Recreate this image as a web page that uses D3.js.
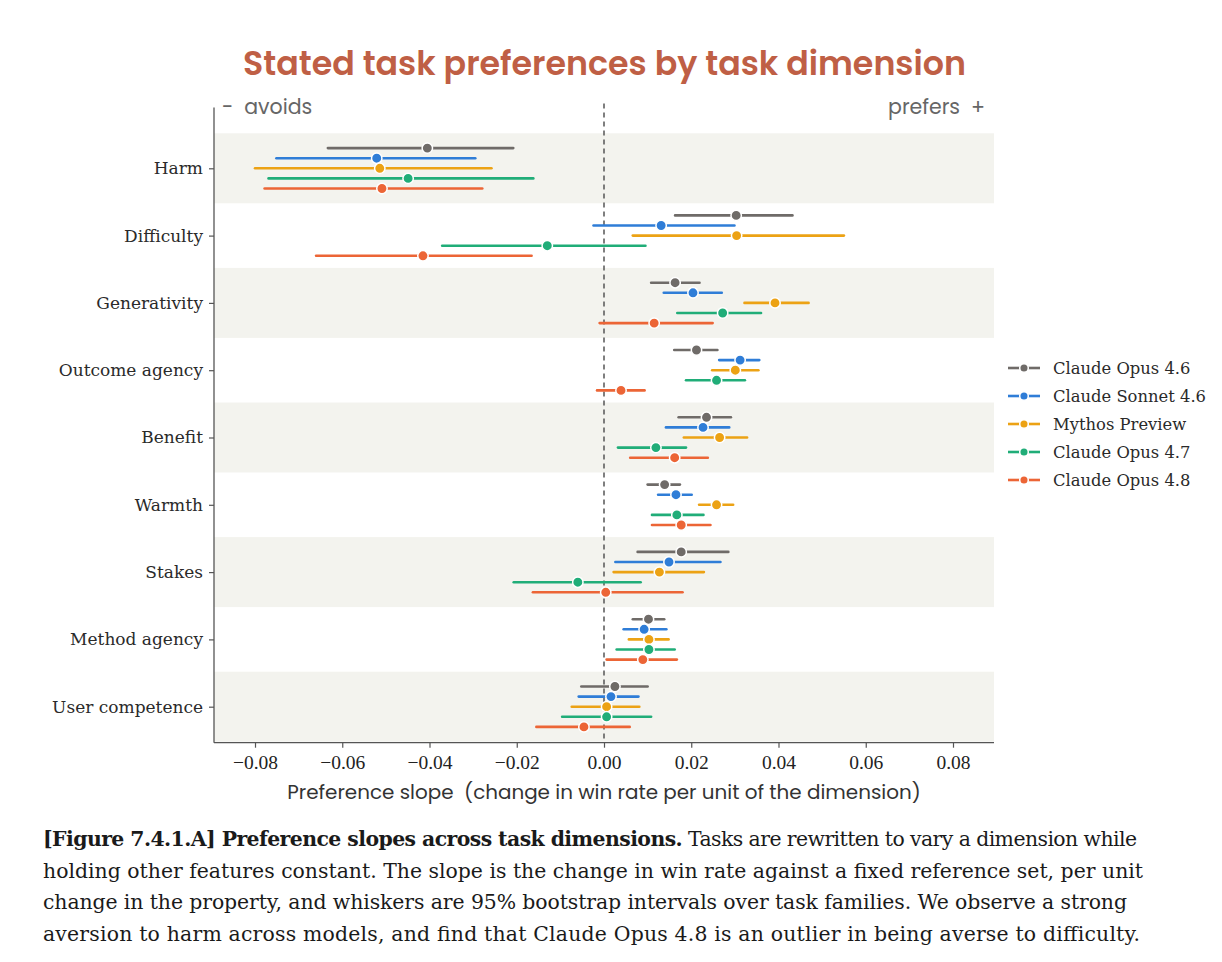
<!DOCTYPE html>
<html>
<head>
<meta charset="utf-8">
<script src="https://cdn.jsdelivr.net/npm/d3@7/dist/d3.min.js"></script>
<style>
  html, body { margin: 0; padding: 0; background: #ffffff; }
  svg { display: block; }
</style>
</head>
<body>
<svg id="chart" width="1222" height="962"></svg>
<script>
// ---------------- DATA ----------------
const categories = ["Harm", "Difficulty", "Generativity", "Outcome agency", "Benefit",
                    "Warmth", "Stakes", "Method agency", "User competence"];
const seriesNames = ["Claude Opus 4.6", "Claude Sonnet 4.6", "Mythos Preview", "Claude Opus 4.7", "Claude Opus 4.8"];
// each entry: [low, estimate, high] per category
const opus46 = [[-0.0633,-0.0405,-0.0208],[0.0163,0.0303,0.0432],[0.0108,0.0163,0.0219],[0.0161,0.0212,0.0260],
                [0.0171,0.0235,0.0291],[0.0100,0.0139,0.0174],[0.0077,0.0177,0.0285],[0.0066,0.0102,0.0138],[-0.0052,0.0025,0.0100]];
const sonnet46 = [[-0.0751,-0.0521,-0.0295],[-0.0024,0.0131,0.0299],[0.0137,0.0204,0.0270],[0.0264,0.0312,0.0356],
                  [0.0142,0.0227,0.0287],[0.0124,0.0165,0.0201],[0.0026,0.0149,0.0267],[0.0045,0.0092,0.0143],[-0.0058,0.0016,0.0079]];
const mythos = [[-0.0800,-0.0514,-0.0258],[0.0066,0.0304,0.0550],[0.0322,0.0392,0.0469],[0.0248,0.0301,0.0354],
                [0.0183,0.0265,0.0328],[0.0218,0.0258,0.0296],[0.0022,0.0127,0.0229],[0.0057,0.0103,0.0148],[-0.0074,0.0006,0.0081]];
const opus47 = [[-0.0769,-0.0449,-0.0162],[-0.0371,-0.0130,0.0095],[0.0168,0.0272,0.0360],[0.0188,0.0258,0.0323],
                [0.0032,0.0119,0.0188],[0.0110,0.0167,0.0228],[-0.0207,-0.0060,0.0084],[0.0029,0.0103,0.0162],[-0.0096,0.0006,0.0108]];
const opus48 = [[-0.0778,-0.0509,-0.0279],[-0.0660,-0.0415,-0.0166],[-0.0010,0.0115,0.0249],[-0.0016,0.0039,0.0093],
                [0.0060,0.0162,0.0238],[0.0110,0.0177,0.0244],[-0.0163,0.0004,0.0180],[0.0006,0.0089,0.0167],[-0.0155,-0.0046,0.0059]];
const seriesValues = [opus46, sonnet46, mythos, opus47, opus48];
const xTicks = [-0.08, -0.06, -0.04, -0.02, 0.00, 0.02, 0.04, 0.06, 0.08];

const titleText = "Stated task preferences by task dimension";
const xLabelText = "Preference slope\u00a0 (change in win rate per unit of the dimension)";
const captionBold = "[Figure 7.4.1.A] Preference slopes across task dimensions.";
const captionLines = [
  " Tasks are rewritten to vary a dimension while",
  "holding other features constant. The slope is the change in win rate against a fixed reference set, per unit",
  "change in the property, and whiskers are 95% bootstrap intervals over task families. We observe a strong",
  "aversion to harm across models, and find that Claude Opus 4.8 is an outlier in being averse to difficulty."
];

// ---------------- STYLE ----------------
const palette = ["#6f6b68", "#2f7dd7", "#eca214", "#20ad78", "#ec6536"];
const bandColor = "#f3f3ee";
const axisColor = "#555555";
const serif = "'DejaVu Serif', serif";
const sans = "Poppins, Inter, 'Open Sans', sans-serif";

const svg = d3.select("#chart");

const plotLeft = 214, plotRight = 994, plotTop = 107.4, plotBottom = 742.7;
const x = d3.scaleLinear().domain([-0.0894, 0.0894]).range([plotLeft, plotRight]);
const y = d3.scaleLinear().domain([-0.905, 8.535]).range([plotTop, plotBottom]);
const offset = 0.15;

function fitWidth(sel, target) {
  const node = sel.node();
  const w = node.getComputedTextLength();
  const fs = parseFloat(sel.attr("font-size"));
  sel.attr("font-size", (fs * target / w).toFixed(2));
}

// bands
const g = svg.append("g");
g.selectAll("rect.band")
  .data(categories.map((c, i) => i).filter(i => i % 2 === 0))
  .join("rect")
  .attr("class", "band")
  .attr("x", plotLeft)
  .attr("width", plotRight - plotLeft)
  .attr("y", i => Math.max(plotTop, y(i - 0.52)))
  .attr("height", i => Math.min(plotBottom, y(i + 0.52)) - Math.max(plotTop, y(i - 0.52)))
  .attr("fill", bandColor);

// zero line
g.append("line")
  .attr("x1", x(0)).attr("x2", x(0))
  .attr("y1", plotTop - 4).attr("y2", plotBottom)
  .attr("stroke", "#555").attr("stroke-width", 1.5)
  .attr("stroke-dasharray", "5,4");

// error bars and points
seriesValues.forEach((vals, si) => {
  const sg = g.append("g");
  const yy = i => y(i + (si - 2) * offset);
  sg.selectAll("line")
    .data(vals)
    .join("line")
    .attr("x1", d => x(d[0])).attr("x2", d => x(d[2]))
    .attr("y1", (d, i) => yy(i)).attr("y2", (d, i) => yy(i))
    .attr("stroke", palette[si]).attr("stroke-width", 2.6)
    .attr("stroke-linecap", "round");
  sg.selectAll("circle")
    .data(vals)
    .join("circle")
    .attr("cx", d => x(d[1]))
    .attr("cy", (d, i) => yy(i))
    .attr("r", 5.2)
    .attr("fill", palette[si])
    .attr("stroke", "#ffffff").attr("stroke-width", 1.5);
});

// axes
const xAxis = d3.axisBottom(x).tickValues(xTicks).tickSize(5).tickPadding(7)
  .tickFormat(d => d3.format(".2f")(d).replace("-", "\u2212"));
const xg = svg.append("g").attr("transform", `translate(0,${plotBottom})`).call(xAxis);
xg.select(".domain").attr("stroke", axisColor).attr("stroke-width", 1.3)
  .attr("d", `M${plotLeft},0H${plotRight}`);
xg.selectAll(".tick line").attr("stroke", axisColor).attr("stroke-width", 1.2);
xg.selectAll(".tick text").attr("font-family", "'Liberation Serif', serif")
  .attr("font-size", 19.5).attr("fill", "#222");

const yAxis = d3.axisLeft(y).tickValues(d3.range(categories.length))
  .tickFormat(i => categories[i]).tickSize(5).tickPadding(6);
const yg = svg.append("g").attr("transform", `translate(${plotLeft},0)`).call(yAxis);
yg.select(".domain").attr("stroke", axisColor).attr("stroke-width", 1.3)
  .attr("d", `M0,${plotTop}V${plotBottom}`);
yg.selectAll(".tick line").attr("stroke", axisColor).attr("stroke-width", 1.2);
const yLabels = yg.selectAll(".tick text").attr("font-family", serif).attr("font-size", 16).attr("fill", "#2a2a2a");
{
  const node = yLabels.filter((d, i) => i === 8).node();
  const w = node.getComputedTextLength();
  yLabels.attr("font-size", (16 * 151 / w).toFixed(2));
}

// avoids / prefers
svg.append("text").attr("x", 222).attr("y", 107).attr("dy", "0.35em")
  .attr("font-family", sans).attr("font-size", 20.5).attr("fill", "#666")
  .text("-\u00a0 avoids");
svg.append("text").attr("x", 985).attr("y", 107).attr("dy", "0.35em")
  .attr("text-anchor", "end")
  .attr("font-family", sans).attr("font-size", 20.5).attr("fill", "#666")
  .text("prefers\u00a0 +");

// title
const title = svg.append("text").attr("x", 604.5).attr("y", 75)
  .attr("text-anchor", "middle")
  .attr("font-family", sans).attr("font-weight", 600).attr("font-size", 31)
  .attr("fill", "#bf5f45").text(titleText);
fitWidth(title, 723);

// x label
const xl = svg.append("text").attr("x", 604).attr("y", 799)
  .attr("text-anchor", "middle")
  .attr("font-family", sans).attr("font-size", 18).attr("fill", "#333")
  .text(xLabelText);
fitWidth(xl, 634);

// legend
const legendY0 = 368, legendStep = 28;
const lg = svg.append("g");
seriesNames.forEach((name, si) => {
  const yy = legendY0 + si * legendStep;
  lg.append("line").attr("x1", 1008).attr("x2", 1040).attr("y1", yy).attr("y2", yy)
    .attr("stroke", palette[si]).attr("stroke-width", 2.6);
  lg.append("circle").attr("cx", 1024).attr("cy", yy).attr("r", 4.3)
    .attr("fill", palette[si]).attr("stroke", "#fff").attr("stroke-width", 1.5);
  lg.append("text").attr("class", "legtext").attr("x", 1053).attr("y", yy).attr("dy", "0.35em")
    .attr("font-family", serif).attr("font-size", 16).attr("fill", "#2a2a2a").text(name);
});
{
  const t = lg.selectAll("text.legtext");
  const w = t.filter((d, i) => i === 1).node().getComputedTextLength();
  t.attr("font-size", (16 * 153 / w).toFixed(2));
}

// caption
const capX = 43, capY0 = 846, capStep = 31.7;
const capEnds = [1137, 1143, 1127, 1140];
let capFont = 17;
{
  const probe = svg.append("text").attr("font-family", serif).attr("font-size", 17).text(captionLines[1]);
  const w = probe.node().getComputedTextLength();
  capFont = 17 * (capEnds[1] - capX) / w;
  probe.remove();
}
captionLines.forEach((line, li) => {
  const t = svg.append("text").attr("x", capX).attr("y", capY0 + li * capStep)
    .attr("font-family", serif).attr("font-size", capFont.toFixed(2)).attr("fill", "#1a1a1a");
  if (li === 0) {
    t.append("tspan").attr("font-weight", 700).text(captionBold);
  }
  t.append("tspan").text(line);
  t.attr("textLength", capEnds[li] - capX).attr("lengthAdjust", "spacing");
});
</script>
</body>
</html>
